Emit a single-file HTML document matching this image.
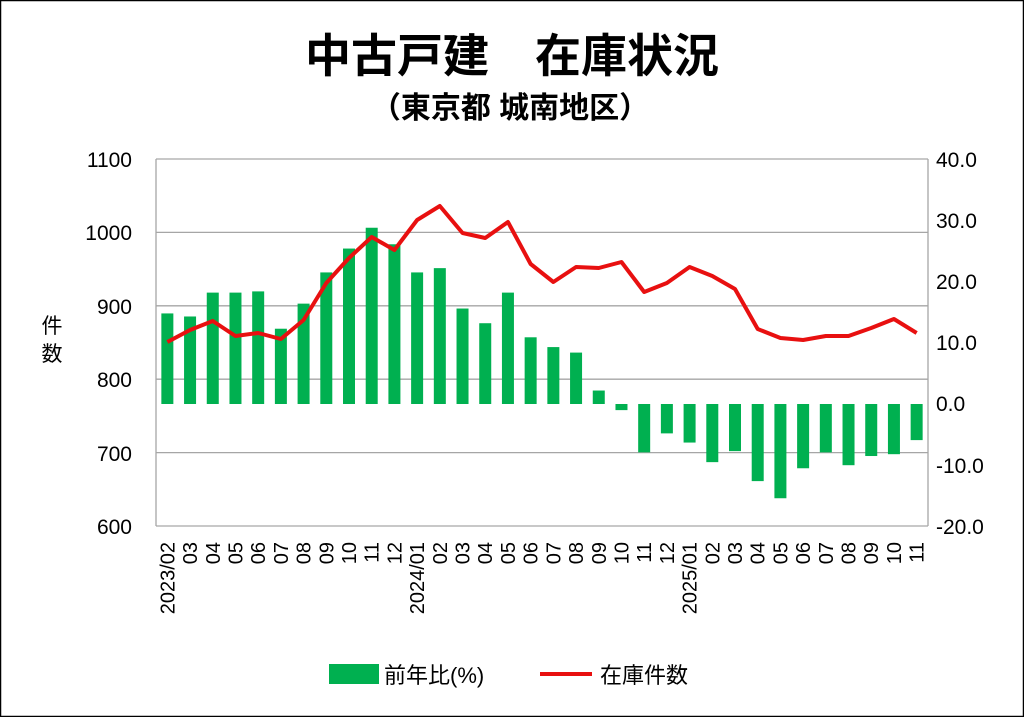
<!DOCTYPE html>
<html><head><meta charset="utf-8"><style>
body{margin:0;background:#fff}
svg{display:block}
text{font-family:"Liberation Sans","Noto Sans CJK JP",sans-serif}
</style></head><body>
<svg width="1024" height="717" xmlns="http://www.w3.org/2000/svg">
<rect x="0.5" y="0.5" width="1023" height="716" fill="#fff" stroke="#000" stroke-width="1.5"/>
<text x="512" y="72" text-anchor="middle" font-size="46" font-weight="bold" font-family="Noto Sans CJK JP,sans-serif">中古戸建　在庫状況</text>
<text x="510" y="118" text-anchor="middle" font-size="30" font-weight="bold" font-family="Noto Sans CJK JP,sans-serif">（東京都 城南地区）</text>
<g stroke="#a6a6a6" stroke-width="1.3">
<line x1="156" y1="159" x2="928" y2="159"/>
<line x1="156" y1="232.4" x2="928" y2="232.4"/>
<line x1="156" y1="305.8" x2="928" y2="305.8"/>
<line x1="156" y1="379.2" x2="928" y2="379.2"/>
<line x1="156" y1="452.6" x2="928" y2="452.6"/>
<line x1="156" y1="526" x2="928" y2="526"/>
<line x1="156" y1="159" x2="156" y2="526"/>
<line x1="928" y1="159" x2="928" y2="526"/>
</g>
<g font-size="21" text-anchor="end" fill="#000">
<text x="132" y="167">1100</text><text x="132" y="240">1000</text><text x="132" y="314">900</text>
<text x="132" y="387">800</text><text x="132" y="461">700</text><text x="132" y="534">600</text>
</g>
<g font-size="21" text-anchor="start">
<text x="936" y="167">40.0</text><text x="936" y="228">30.0</text><text x="936" y="289">20.0</text>
<text x="936" y="350">10.0</text><text x="936" y="411">0.0</text><text x="936" y="473">-10.0</text><text x="936" y="534">-20.0</text>
</g>
<text x="52" y="333" text-anchor="middle" font-size="21" font-family="Noto Sans CJK JP,sans-serif">件</text>
<text x="52" y="361" text-anchor="middle" font-size="21" font-family="Noto Sans CJK JP,sans-serif">数</text>
<g id="bars" fill="#00b050"></g>
<polyline id="line" fill="none" stroke="#e81010" stroke-width="4" stroke-linejoin="round"/>
<g id="xl" font-size="20"></g>
<rect x="329" y="664" width="50" height="20" fill="#00b050"/>
<text x="384" y="683" font-size="22" font-family="Noto Sans CJK JP,sans-serif">前年比(%)</text>
<line x1="540" y1="674" x2="592" y2="674" stroke="#e81010" stroke-width="4"/>
<text x="600" y="683" font-size="22" font-family="Noto Sans CJK JP,sans-serif">在庫件数</text>
<script>
var b=[14.8,14.3,18.2,18.2,18.4,12.3,16.4,21.5,25.4,28.8,26.1,21.5,22.2,15.6,13.2,18.2,10.9,9.3,8.4,2.2,-1.0,-7.9,-4.8,-6.3,-9.5,-7.7,-12.6,-15.4,-10.5,-7.9,-10.0,-8.5,-8.2,-5.9];
var l=[342,330,321,336,333,339,320,283,258,237,250,220,206,233,238,222,264,282,267,268,262,292,283,267,276,289,329,338,340,336,336,328,319,333];
var lab=["2023/02","03","04","05","06","07","08","09","10","11","12","2024/01","02","03","04","05","06","07","08","09","10","11","12","2025/01","02","03","04","05","06","07","08","09","10","11"];
var ns="http://www.w3.org/2000/svg",w=772/34,z=404,s=6.12,g=document.getElementById("bars"),xl=document.getElementById("xl"),pts=[];
for(var i=0;i<34;i++){var cx=156+w*(i+0.5),h=b[i]*s;var r=document.createElementNS(ns,"rect");
r.setAttribute("x",cx-6);r.setAttribute("width",12);r.setAttribute("y",h>0?z-h:z);r.setAttribute("height",Math.abs(h));g.appendChild(r);
pts.push(cx+","+l[i]);
var t=document.createElementNS(ns,"text");t.setAttribute("transform","translate("+(cx+7)+",542) rotate(-90)");t.setAttribute("text-anchor","end");t.textContent=lab[i];xl.appendChild(t);}
document.getElementById("line").setAttribute("points",pts.join(" "));
</script>
</svg>
</body></html>
